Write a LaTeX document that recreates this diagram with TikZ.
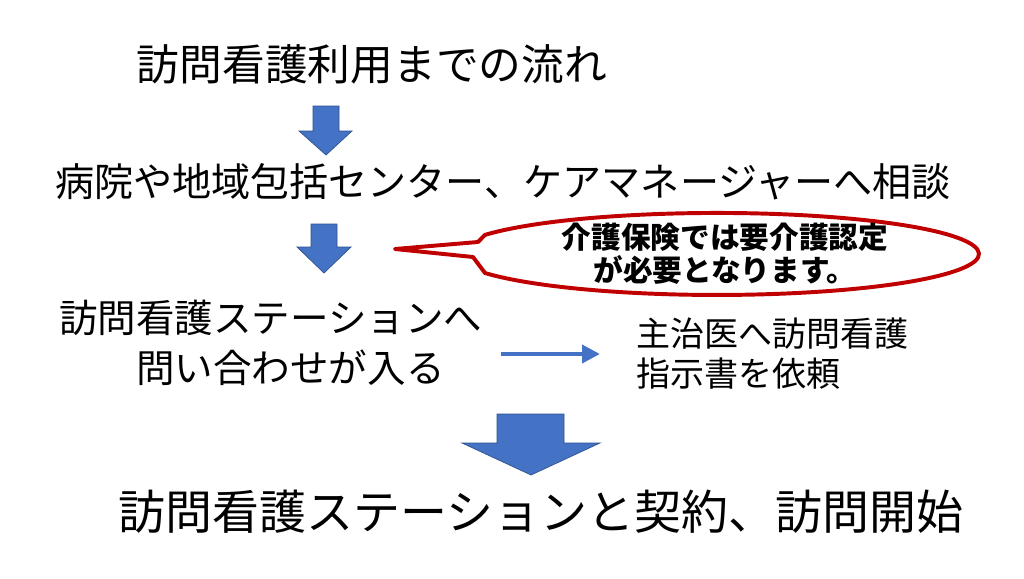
\documentclass[tikz,border=0pt]{standalone}
\usepackage{fontspec}
\newfontfamily\jpfont{Noto Sans CJK JP}
\usepackage{tikz}
\usetikzlibrary{arrows.meta}
\definecolor{arrowblue}{HTML}{4472C4}
\definecolor{arrowedge}{HTML}{2F528F}
\definecolor{calloutred}{HTML}{C00000}
\tikzset{
  steptext/.style 2 args={inner sep=0pt, align=center, font={\jpfont\fontsize{#1}{#2}\selectfont}},
  blockarrow/.style={fill=arrowblue, draw=arrowedge, line width=0.5pt},
  thinarrow/.style={draw=arrowblue, line width=3.5pt, -{Triangle[length=12.8pt,width=12.6pt]}},
  callout/.style={fill=white, draw=calloutred, line width=2.8pt, line join=round}
}

\begin{document}
\begin{tikzpicture}[x=0.025cm, y=-0.025cm]
    \fill[white] (0,0) rectangle (1024,578);
    \useasboundingbox (0,0) rectangle (1024,578);
    \node[steptext={30.4pt}{36pt}] (title) at (372,64) {訪問看護利用までの流れ};
    \node[steptext={27.8pt}{35pt}] (consult) at (503,182) {病院や地域包括センター、ケアマネージャーへ相談};
    \node[steptext={27.4pt}{35.6pt}, align=left, anchor=west] (inquiry) at (59,343) {訪問看護ステーションへ\\\hspace*{2em}問い合わせが入る};
    \node[steptext={24.2pt}{28.5pt}, align=left, anchor=west] (order) at (636,353.5) {主治医へ訪問看護\\指示書を依頼};
    \node[steptext={33.4pt}{40pt}] (contract) at (541,512) {訪問看護ステーションと契約、訪問開始};
    \draw[blockarrow] (313,106) -- (339,106) -- (339,131) -- (352,131) -- (326,155) -- (299,131) -- (313,131) -- cycle;
    \draw[blockarrow] (311,224) -- (337,224) -- (337,247) -- (351,247) -- (324,273) -- (297,247) -- (311,247) -- cycle;
    \draw[blockarrow] (497,414) -- (564,414) -- (564,443) -- (600,443) -- (531,475) -- (462,443) -- (497,443) -- cycle;
    \coordinate (askfrom) at (501,354);
    \coordinate (askto) at (600,354);
    \draw[thinarrow] (askfrom) -- (askto);
    \draw[callout] (395,249) -- (478,242) -- (485,234.9) arc[start angle=207.7, end angle=512.3, x radius=262, y radius=41] -- (473,257) -- cycle;
    \node[steptext={21.1pt}{23.5pt}, font={\jpfont\bfseries\fontsize{21.1pt}{23.5pt}\selectfont}] (note) at (725,253.5) {介護保険では要介護認定\\が必要となります。};
\end{tikzpicture}
\end{document}
